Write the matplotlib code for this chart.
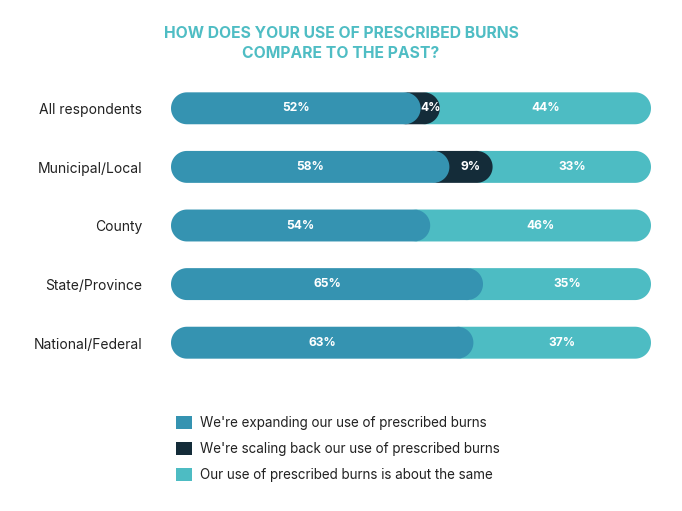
import matplotlib
matplotlib.use('Agg')
import numpy as np
import matplotlib.pyplot as plt
from matplotlib.patches import Polygon, Patch

plt.rcParams['font.family'] = ['Inter', 'DejaVu Sans']

# Data
groups = ['All respondents', 'Municipal/Local', 'County', 'State/Province', 'National/Federal']
expanding = [52, 58, 54, 65, 63]
scaling_back = [4, 9, 0, 0, 0]
same = [44, 33, 46, 35, 37]
series_labels = ["We're expanding our use of prescribed burns",
                 "We're scaling back our use of prescribed burns",
                 "Our use of prescribed burns is about the same"]

c_exp = '#3593b1'
c_back = '#142c39'
c_same = '#4dbcc3'
title_color = '#4fbdc4'

fig = plt.figure(figsize=(6.82, 5.11), dpi=100)
fig.patch.set_facecolor('white')

fig.text(0.5, 1 - 33 / 511, 'HOW DOES YOUR USE OF PRESCRIBED BURNS',
         ha='center', va='center', color=title_color, fontsize=11.3, fontweight='bold')
fig.text(0.5, 1 - 53 / 511, 'COMPARE TO THE PAST?',
         ha='center', va='center', color=title_color, fontsize=11.3, fontweight='bold')

# axes spanning the bar area (pixels 171..651 wide, 79..372 tall)
ax = fig.add_axes([171 / 682, (511 - 372) / 511, 480 / 682, 293 / 511])
ax.set_xlim(0, 100)
ax.set_ylim(len(groups) - 0.5, -0.5)
ax.axis('off')

bar_h = 0.545
# half circle ends: radius in x units that matches half the bar height in pixels
rx = (bar_h / 2) * (293 / 5) / (480 / 100)
ry = bar_h / 2
t = np.linspace(-np.pi / 2, np.pi / 2, 40)


def segment(start, end, y, color):
    # right end: half circle; left end: half circle, concave (follows the
    # previous segment's rounded end) unless the segment starts at zero
    right = np.column_stack([end - rx + rx * np.cos(t), y + ry * np.sin(t)])
    if start == 0:
        left = np.column_stack([start + rx - rx * np.cos(t[::-1]), y + ry * np.sin(t[::-1])])
    else:
        left = np.column_stack([start - rx + rx * np.cos(t[::-1]) - 0.4, y + ry * np.sin(t[::-1])])
    ax.add_patch(Polygon(np.vstack([right, left]), closed=True,
                         facecolor=color, edgecolor='none', linewidth=0))


for i, g in enumerate(groups):
    e, b, s = expanding[i], scaling_back[i], same[i]
    segment(e + b, e + b + s, i, c_same)
    if b > 0:
        segment(e, e + b, i, c_back)
    segment(0, e, i, c_exp)

    kw = dict(ha='center', va='center', color='white', fontsize=8.7, fontweight='bold')
    ax.text(e / 2, i, f'{e}%', **kw)
    if b > 0:
        ax.text(e + b / 2, i, f'{b}%', **kw)
    ax.text(e + b + s / 2, i, f'{s}%', **kw)

    fig.text(142 / 682, ax.transData.transform((0, i))[1] / 511 - 2 / 511, g,
             ha='right', va='center', fontsize=10, color='#222222')

handles = [Patch(facecolor=c, edgecolor='none') for c in (c_exp, c_back, c_same)]
fig.legend(handles, series_labels, loc='upper left',
           bbox_to_anchor=(164 / 682, 1 - 404 / 511), frameon=False,
           fontsize=9.7, handlelength=1.15, handleheight=1.15,
           handletextpad=0.6, labelspacing=0.85, labelcolor='#222222')

fig.savefig('out.png', dpi=100, facecolor='white')
